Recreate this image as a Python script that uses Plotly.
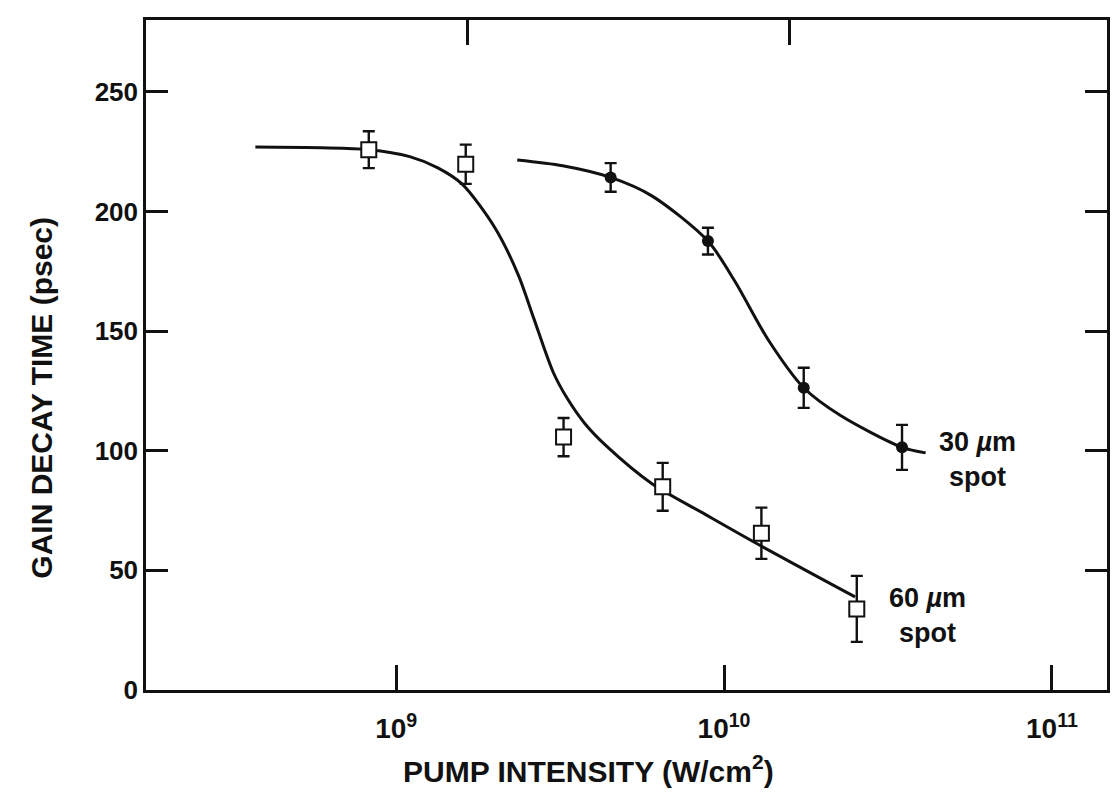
import plotly.graph_objects as go

# ---- data ----
# 60 um spot (open squares)
x60 = [8.25e8, 1.63e9, 3.24e9, 6.5e9, 1.30e10, 2.54e10]
y60 = [225.8, 219.7, 105.7, 84.9, 65.5, 33.9]
e60 = [7.7, 8.2, 8.0, 10.0, 10.7, 13.8]

# 30 um spot (filled circles)
x30 = [4.51e9, 8.93e9, 1.75e10, 3.49e10]
y30 = [214.2, 187.6, 126.3, 101.4]
e30 = [6.0, 5.6, 8.4, 9.4]

# fitted curves
cx60 = [3.72e8, 8.25e8, 1.10e9, 1.34e9, 1.59e9, 2.0e9, 2.36e9, 2.63e9, 3.01e9,
        3.32e9, 3.76e9, 4.39e9, 6.03e9, 8.79e9, 1.27e10, 2.51e10]
cy60 = [226.9, 225.8, 222.9, 218.2, 211.4, 193.2, 173.3, 155.2, 132.9,
        122.0, 111.4, 101.8, 86.2, 73.3, 60.9, 38.9]

cx30 = [2.34e9, 3.22e9, 4.51e9, 6.04e9, 8.93e9, 1.08e10, 1.36e10,
        1.75e10, 2.26e10, 3.49e10, 4.12e10]
cy30 = [221.5, 219.1, 214.2, 206.4, 187.6, 170.7, 146.6,
        126.3, 114.8, 101.4, 99.1]

xtick_vals = [1e9, 1e10, 1e11]
xtick_text = ["10<sup>9</sup>", "10<sup>10</sup>", "10<sup>11</sup>"]
top_tick_vals = [1.65e9, 1.58e10]
ytick_vals = [0, 50, 100, 150, 200, 250]

XR = [8.237, 11.168]
YR = [0, 280]

FONT = "Liberation Sans, Arial, Helvetica, sans-serif"

fig = go.Figure()

curve_line = dict(color="#111", width=3, shape="spline", smoothing=0.8)
fig.add_trace(go.Scatter(x=cx60, y=cy60, mode="lines", line=curve_line,
                         showlegend=False, hoverinfo="skip"))
fig.add_trace(go.Scatter(x=cx30, y=cy30, mode="lines", line=curve_line,
                         showlegend=False, hoverinfo="skip"))

fig.add_trace(go.Scatter(
    x=x60, y=y60, mode="markers",
    marker=dict(symbol="square", size=15, color="white", line=dict(color="#111", width=2)),
    error_y=dict(type="data", array=e60, color="#111", thickness=2.4, width=6),
    showlegend=False))
fig.add_trace(go.Scatter(
    x=x30, y=y30, mode="markers",
    marker=dict(symbol="circle", size=12, color="#111"),
    error_y=dict(type="data", array=e30, color="#111", thickness=2.4, width=6),
    showlegend=False))

# dummy trace so the top tick axis is drawn
fig.add_trace(go.Scatter(x=[1e9], y=[0], xaxis="x2", mode="markers",
                         marker=dict(opacity=0), showlegend=False, hoverinfo="skip"))

fig.update_layout(
    width=1113, height=809,
    margin=dict(l=146, r=3, t=20, b=119),
    paper_bgcolor="white", plot_bgcolor="white",
    font=dict(family=FONT, color="#111", size=26, weight="bold"),
    xaxis=dict(type="log", range=XR, tickvals=xtick_vals, ticktext=xtick_text,
               ticks="inside", ticklen=25, tickwidth=2.5, tickcolor="#111",
               showline=True, linewidth=2.5, linecolor="#111", mirror=True,
               showgrid=False, zeroline=False, ticklabelstandoff=12,
               tickfont=dict(family=FONT, size=28, weight="bold")),
    xaxis2=dict(type="log", range=XR, overlaying="x", side="top",
                tickvals=top_tick_vals, ticks="inside", ticklen=25, tickwidth=2.5,
                tickcolor="#111", showticklabels=False, showline=False,
                showgrid=False, zeroline=False),
    yaxis=dict(range=YR, tickvals=ytick_vals, ticks="inside", ticklen=22, tickwidth=2.5,
               tickcolor="#111", showline=True, linewidth=2.5, linecolor="#111",
               mirror="ticks", showgrid=False, zeroline=False,
               tickfont=dict(family=FONT, size=26, weight="bold")),
    annotations=[
        dict(text="GAIN DECAY TIME (psec)", xref="paper", yref="paper",
             x=-0.128, y=0.437, textangle=-90, showarrow=False,
             font=dict(family=FONT, size=30, weight="bold")),
        dict(text="PUMP INTENSITY (W/cm<sup>2</sup>)", xref="paper", yref="paper",
             x=0.4606, y=-0.149, showarrow=False,
             font=dict(family=FONT, size=30, weight="bold")),
        dict(text="30 <i>µ</i>m<br>spot", xref="x", yref="y", x=10.772, y=96.5,
             showarrow=False, align="center",
             font=dict(family=FONT, size=27, weight="bold")),
        dict(text="60 <i>µ</i>m<br>spot", xref="x", yref="y", x=10.620, y=31.3,
             showarrow=False, align="center",
             font=dict(family=FONT, size=27, weight="bold")),
    ],
)

fig.write_html("out.html")
